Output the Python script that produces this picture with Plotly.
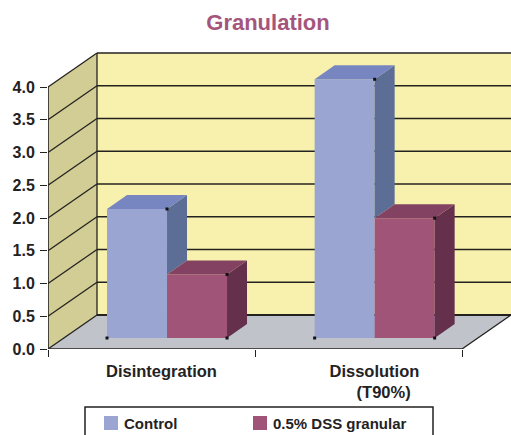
import plotly.graph_objects as go

categories = ["Disintegration", "Dissolution<br>\u00a0\u00a0\u00a0\u00a0(T90%)"]
series_names = ["Control", "0.5% DSS granular"]
control_values = [1.97, 3.95]
dss_values = [0.97, 1.83]
y_ticks = [0, 0.5, 1, 1.5, 2, 2.5, 3, 3.5, 4]

# projection: one x unit = 207 px, one y unit = 65.5 px
W, H = 511, 435
L, R, T, B = 48, 0, 52, 86
XU, YU = 207.0, 65.5
WALL_DX, WALL_DY = 49 / XU, 34 / YU
BAR_DX, BAR_DY = 20 / XU, 14 / YU
BAR_BASE = 11 / YU
BAR_W = 60 / XU
GROUP_X = [0.575, 1.578]
LABEL_X = [0.548, 1.577]
X_MAX = (W - L) / XU
Y_MAX = (H - B - T) / YU
LINE = "#24221f"

COL = {
    "control": dict(front="#9aa5d2", top="#7786c0", side="#5c6d96"),
    "dss": dict(front="#a05478", top="#844262", side="#64304c"),
}


def poly(points, fill):
    return dict(
        type="path", xref="x", yref="y", layer="below",
        path="M" + "L".join(f"{x:.4f},{y:.4f}" for x, y in points) + "Z",
        fillcolor=fill, line=dict(color=fill, width=0),
    )


def seg(x0, y0, x1, y1, width=1.3):
    return dict(type="line", xref="x", yref="y", layer="below", x0=x0, y0=y0, x1=x1, y1=y1,
                line=dict(color=LINE, width=width))


def px_x(p):
    return (p - L) / (W - L)


def px_y(p):
    return (H - B - p) / (H - B - T)


shapes = [
    poly([(WALL_DX, WALL_DY), (X_MAX, WALL_DY), (X_MAX, 4 + WALL_DY), (WALL_DX, 4 + WALL_DY)], "#f7f1ad"),
    poly([(0, 0), (WALL_DX, WALL_DY), (WALL_DX, 4 + WALL_DY), (0, 4)], "#d2cd95"),
    poly([(0, 0), (2, 0), (2 + WALL_DX, WALL_DY), (WALL_DX, WALL_DY)], "#c1c3ca"),
]
for v in y_ticks:
    shapes.append(seg(0, v, WALL_DX, v + WALL_DY))
    shapes.append(seg(WALL_DX, v + WALL_DY, X_MAX, v + WALL_DY, 1.6 if v else 2))
shapes.append(seg(WALL_DX, WALL_DY, WALL_DX, 4 + WALL_DY))
shapes.append(seg(2, 0, 2 + WALL_DX, WALL_DY))

# hand-placed legend: frame and swatches in page coordinates
legend_swatch_px = [(104, 118), (253, 267)]
legend_text_px = [123, 272]
shapes.append(dict(type="rect", xref="paper", yref="paper", layer="below",
                   x0=px_x(85), x1=px_x(433), y0=px_y(445), y1=px_y(407),
                   fillcolor="white", line=dict(color=LINE, width=1.5)))
for (a, b), key in zip(legend_swatch_px, ["control", "dss"]):
    shapes.append(dict(type="rect", xref="paper", yref="paper", layer="below",
                       x0=px_x(a), x1=px_x(b), y0=px_y(430), y1=px_y(416),
                       fillcolor=COL[key]["front"], line=dict(width=0)))

fig = go.Figure()

for name, vals, off, key in [
    (series_names[0], control_values, -BAR_W, "control"),
    (series_names[1], dss_values, 0, "dss"),
]:
    fig.add_bar(
        x=GROUP_X, y=vals, base=BAR_BASE, width=BAR_W, offset=off, name=name, showlegend=False,
        marker=dict(color=COL[key]["front"], line=dict(width=0)), hoverinfo="skip",
    )


def face(points, color):
    xs, ys = zip(*points)
    fig.add_scatter(x=list(xs) + [xs[0]], y=list(ys) + [ys[0]], mode="lines", fill="toself",
                    fillcolor=color, line=dict(width=0, color=color), showlegend=False, hoverinfo="skip")


hx, hy = [], []
for i, gx in enumerate(GROUP_X):
    c, d = control_values[i] + BAR_BASE, dss_values[i] + BAR_BASE
    face([(gx, d), (gx + BAR_DX, d + BAR_DY), (gx + BAR_DX, c + BAR_DY), (gx, c)], COL["control"]["side"])
    face([(gx - BAR_W, c), (gx, c), (gx + BAR_DX, c + BAR_DY), (gx - BAR_W + BAR_DX, c + BAR_DY)], COL["control"]["top"])
    r = gx + BAR_W
    face([(r, BAR_BASE), (r + BAR_DX, BAR_BASE + BAR_DY), (r + BAR_DX, d + BAR_DY), (r, d)], COL["dss"]["side"])
    face([(gx, d), (r, d), (r + BAR_DX, d + BAR_DY), (gx + BAR_DX, d + BAR_DY)], COL["dss"]["top"])
    hx += [gx, gx - BAR_W, r, r]
    hy += [c, BAR_BASE, d, BAR_BASE]

fig.add_scatter(x=hx, y=hy, mode="markers", showlegend=False, hoverinfo="skip",
                marker=dict(symbol="square", size=3, color="#111111"))
# front axis lines, not clipped at the plot edge
fig.add_scatter(x=[0, 0, 2], y=[4, 0, 0], mode="lines", cliponaxis=False, showlegend=False, hoverinfo="skip",
                line=dict(color=LINE, width=1.6))

FONT = "Liberation Sans"
annotations = [
    dict(text=f"<b>{name}</b>", x=px_x(p), y=px_y(423), xref="paper", yref="paper", xanchor="left",
         yanchor="middle", showarrow=False, xshift=0, font=dict(family=FONT, size=15, color="#24221f"),
         borderpad=0)
    for name, p in zip(series_names, legend_text_px)
]
fig.update_layout(
    width=W, height=H, autosize=False,
    margin=dict(l=L, r=R, t=T, b=B, pad=0, autoexpand=False),
    paper_bgcolor="white", plot_bgcolor="rgba(0,0,0,0)",
    shapes=shapes, annotations=annotations, barmode="overlay", hovermode=False, showlegend=False,
    title=dict(text="<b>Granulation</b>", x=268 / W, xanchor="center", xref="container",
               y=1 - 22 / H, yanchor="middle", yref="container",
               font=dict(family=FONT, size=22, color="#a5557c")),
    font=dict(family=FONT, size=16, color="#24221f"),
    xaxis=dict(
        range=[0, X_MAX], showgrid=False, zeroline=False, showline=False,
        tickmode="array", tickvals=LABEL_X, ticktext=[f"<b>{c}</b>" for c in categories],
        tickfont=dict(size=16.5),
        ticks="outside", ticklen=7, tickcolor="rgba(0,0,0,0)", tickangle=0,
        minor=dict(tickmode="array", tickvals=[0, 1, 2], ticks="outside", ticklen=7, tickcolor=LINE, tickwidth=1.3),
    ),
    yaxis=dict(
        range=[0, Y_MAX], showgrid=False, zeroline=False, showline=False,
        tickmode="array", tickvals=y_ticks, ticktext=[f"<b>{v:.1f}</b>" for v in y_ticks],
        ticks="outside", ticklen=7, tickcolor=LINE, tickwidth=1.3, ticklabelstandoff=2,
    ),
)
fig.write_html("out.html", config=dict(displayModeBar=False),
               post_script="document.body.style.margin='0';document.body.style.overflow='hidden';")
